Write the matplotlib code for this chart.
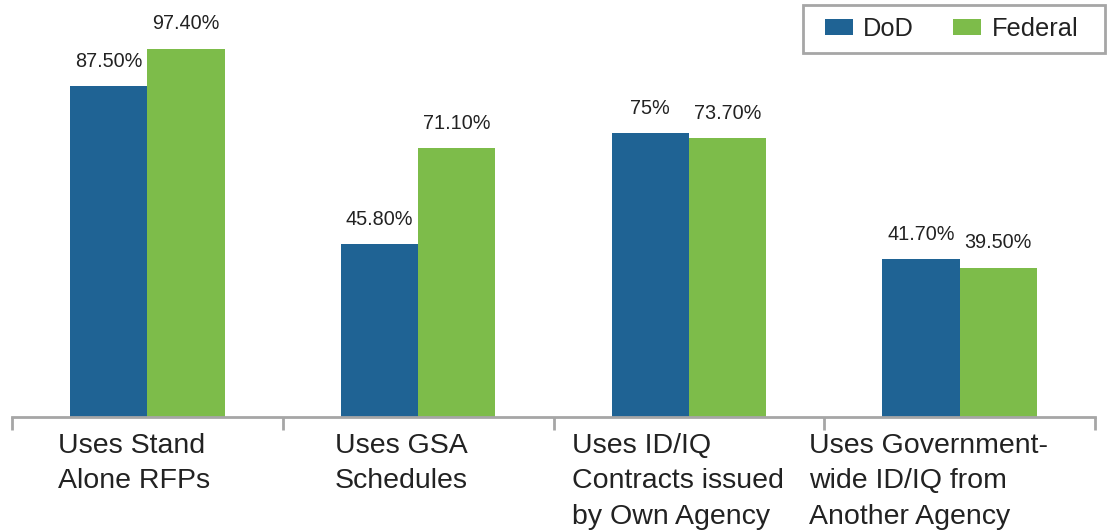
import matplotlib.pyplot as plt
from matplotlib.patches import Rectangle
from matplotlib.transforms import offset_copy

# data
categories = ["Uses Stand\nAlone RFPs",
              "Uses GSA\nSchedules",
              "Uses ID/IQ\nContracts issued\nby Own Agency",
              "Uses Government-\nwide ID/IQ from\nAnother Agency"]
dod = [87.5, 45.8, 75.0, 41.7]
federal = [97.4, 71.1, 73.7, 39.5]
dod_labels = ["87.50%", "45.80%", "75%", "41.70%"]
federal_labels = ["97.40%", "71.10%", "73.70%", "39.50%"]

# layout tweaks for the category text (left edge, relative to category centre)
label_shift = [-0.33, -0.308, -0.43, -0.555]

blue = "#1F6394"
green = "#7DBC4A"
grey = "#A6A6A6"
txt = "#222222"
font = "Liberation Sans"

W, H = 1109, 531
fig = plt.figure(figsize=(W / 100, H / 100), dpi=100)
ax = fig.add_axes([12 / W, 1 - 417 / H, (1095 - 12) / W, 417 / H])

x = list(range(len(categories)))
w = 0.285
b1 = ax.bar([i - w / 2 for i in x], dod, width=w, color=blue, label="DoD")
b2 = ax.bar([i + w / 2 for i in x], federal, width=w, color=green, label="Federal")

ax.set_xlim(-0.5, len(categories) - 0.5)
ax.set_ylim(0, 110.3)

for s in ["top", "right", "left"]:
    ax.spines[s].set_visible(False)
ax.spines["bottom"].set_color(grey)
ax.spines["bottom"].set_linewidth(2)
ax.set_yticks([])
ax.set_xticks([i - 0.5 for i in range(len(categories) + 1)])
ax.set_xticklabels([])
ax.tick_params(axis="x", length=9, width=2, color=grey, direction="out")

# value labels
for bars, labs in [(b1, dod_labels), (b2, federal_labels)]:
    for r, lab in zip(bars, labs):
        ax.annotate(lab, (r.get_x() + r.get_width() / 2, r.get_height()),
                    xytext=(0, 11), textcoords="offset points",
                    ha="center", va="bottom", fontsize=14.3,
                    family=font, color=txt)

# category labels
tr = offset_copy(ax.get_xaxis_transform(), fig=fig, x=0, y=-16, units="dots")
for i, (c, sh) in enumerate(zip(categories, label_shift)):
    ax.text(i + sh, 0, c, transform=tr, ha="left", va="top",
            fontsize=20.5, family=font, color=txt, linespacing=1.47)

# legend
leg = fig.legend(handles=[b1, b2], loc="center left", ncol=2,
                 bbox_to_anchor=(825 / W, 1 - 29 / H), frameon=False,
                 prop={"family": font, "size": 18.3}, handlelength=1.1,
                 handleheight=0.6, handletextpad=0.4, columnspacing=1.55,
                 borderpad=0, borderaxespad=0)
for t in leg.get_texts():
    t.set_color(txt)
fig.patches.append(Rectangle((803 / W, 1 - 53 / H), 302 / W, 48 / H,
                             transform=fig.transFigure, fill=False,
                             edgecolor=grey, linewidth=2))

fig.savefig("out.png", dpi=100)
